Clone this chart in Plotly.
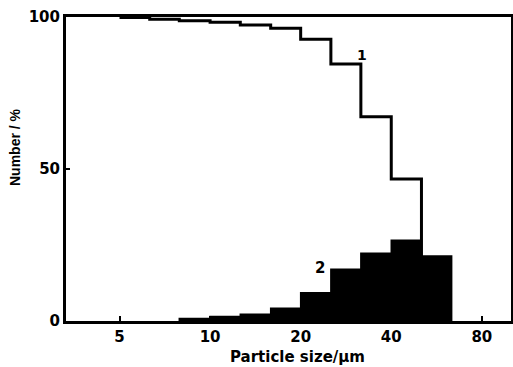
import numpy as np
import plotly.graph_objects as go

# Bin edges (µm), log-spaced
edges1 = [5.0, 6.3, 7.9, 10.0, 12.6, 15.9, 20.0, 25.2, 31.7, 40.0, 50.4]
curve1 = [99.8, 99.3, 98.8, 98.3, 97.4, 96.3, 92.7, 84.5, 67.2, 46.7]

edges2 = [7.9, 10.0, 12.6, 15.9, 20.0, 25.2, 31.7, 40.0, 50.4, 63.5]
hist2 = [0.8, 1.5, 2.2, 4.2, 9.3, 17.0, 22.3, 26.6, 21.4]

xticks = [5, 10, 20, 40, 80]
yticks = [0, 50, 100]

FONT = "DejaVu Sans"


def step_xy(edges, vals, close_to_zero=True):
    xs = list(edges[:-1]) + [edges[-1]]
    ys = list(vals) + [vals[-1]]
    if close_to_zero:
        xs.append(edges[-1])
        ys.append(0)
    return xs, ys


fig = go.Figure()

hx, hy = step_xy(edges2, hist2)
hx = [edges2[0]] + hx
hy = [0] + hy
fig.add_trace(go.Scatter(x=hx, y=hy, mode="lines", line=dict(color="black", width=1.5, shape="hv"),
                         fill="toself", fillcolor="black", showlegend=False, hoverinfo="skip"))

cx, cy = step_xy(edges1, curve1)
fig.add_trace(go.Scatter(x=cx, y=cy, mode="lines", line=dict(color="black", width=3, shape="hv"),
                         showlegend=False, hoverinfo="skip"))

axis_font = dict(family=FONT, size=15, color="black", weight="bold")

fig.update_xaxes(type="log", range=[np.log10(3.32), 2.0], tickvals=xticks,
                 ticktext=[str(t) for t in xticks], ticks="inside", ticklen=5, tickwidth=2,
                 tickcolor="black", showline=True, linewidth=3, linecolor="black", mirror=True,
                 showgrid=False, zeroline=False, tickfont=axis_font, automargin=False)
fig.update_yaxes(range=[0, 100], tickvals=yticks, ticks="inside", ticklen=4, tickwidth=2,
                 tickcolor="black", showline=True, linewidth=3, linecolor="black", mirror=True,
                 showgrid=False, zeroline=False, tickfont=axis_font, automargin=False)

# Axis titles
fig.add_annotation(xref="paper", yref="paper", x=(297 - 66) / 445, y=0, yshift=-36,
                   xanchor="center", yanchor="middle", text="Particle size/µm", showarrow=False,
                   font=dict(family=FONT, size=15, color="black", weight="bold"))
fig.add_annotation(xref="paper", yref="paper", x=0, xshift=-51, y=(321 - 147) / 304,
                   xanchor="center", yanchor="middle", textangle=-90, text="Number / %",
                   showarrow=False,
                   font=dict(family="Liberation Sans", size=14, color="black", weight="bold"))

# Curve labels
fig.add_annotation(x=np.log10(32), y=87.5, text="1", showarrow=False,
                   font=dict(family=FONT, size=14, color="black", weight="bold"))
fig.add_annotation(x=np.log10(23.2), y=17.4, text="2", showarrow=False,
                   font=dict(family=FONT, size=15, color="black", weight="bold"))

fig.update_layout(width=513, height=367, margin=dict(l=66, r=2, t=17, b=46, autoexpand=False),
                  paper_bgcolor="white", plot_bgcolor="white")

fig.write_html("out.html", config={"displayModeBar": False},
               post_script="document.body.style.margin='0';document.body.style.overflow='hidden';")
